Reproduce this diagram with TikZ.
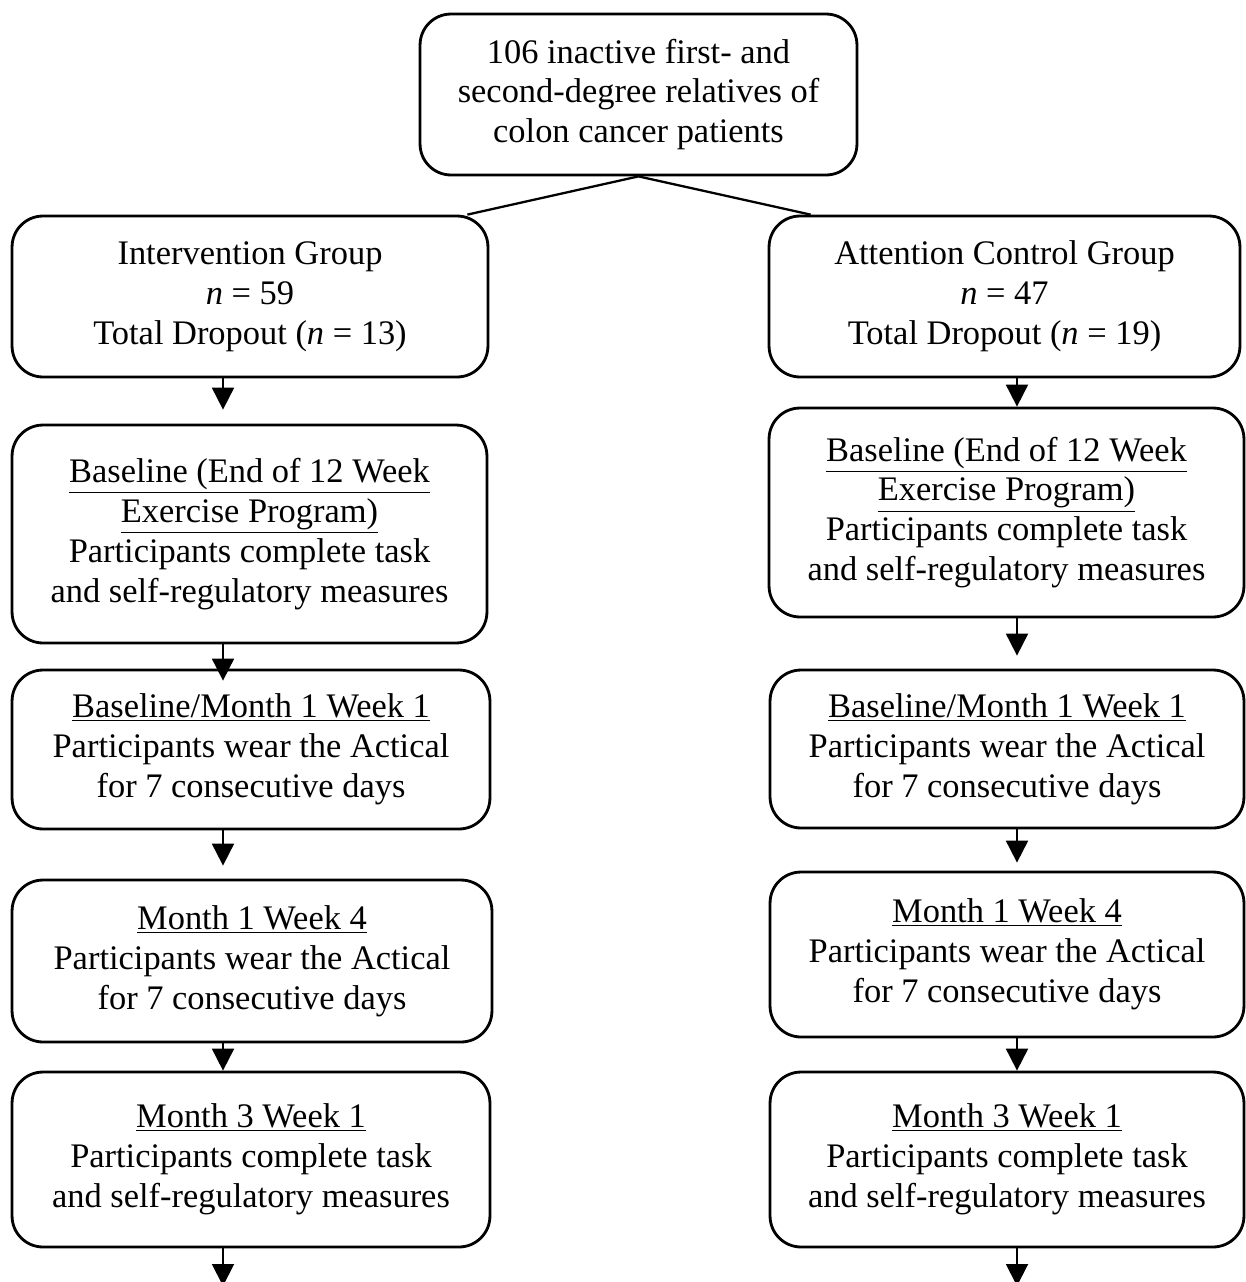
\documentclass[tikz,border=0pt]{standalone}
\usepackage{fontspec}
\setmainfont{Liberation Serif}
\usetikzlibrary{arrows.meta,positioning,calc}

\begin{document}
\begin{tikzpicture}[
  x=0.02cm,y=-0.02cm,
  >={Triangle[length=0.44cm,width=0.44cm]},
  stage/.style={draw=black,line width=1.6pt,rounded corners=0.62cm,align=center,inner sep=0pt,
    font=\fontsize{19.6}{22.7}\selectfont},
  flow/.style={draw=black,line width=1.1pt,->}
]
\useasboundingbox (0,0) rectangle (1245,1282);
% recruitment
\node[stage,minimum width=8.74cm,minimum height=3.22cm] (pool) at (638.5,94.5)
  {106 inactive first- and\\second-degree relatives of\\colon cancer patients};
% groups
\node[stage,minimum width=9.52cm,minimum height=3.22cm] (ig) at (250,296.5)
  {Intervention Group\\\textit{n} = 59\\Total Dropout (\textit{n} = 13)};
\node[stage,minimum width=9.42cm,minimum height=3.22cm] (cg) at (1004.5,296.5)
  {Attention Control Group\\\textit{n} = 47\\Total Dropout (\textit{n} = 19)};
% intervention column
\node[stage,minimum width=9.5cm,minimum height=4.36cm] (ibase) at (249.5,534)
  {\underline{Baseline (End of 12 Week}\\\underline{Exercise Program)}\\Participants complete task\\and self-regulatory measures};
\node[stage,minimum width=9.56cm,minimum height=3.18cm] (iwk1) at (251,749.5)
  {\underline{Baseline/Month 1 Week 1}\\Participants wear the Actical\\for 7 consecutive days};
\node[stage,minimum width=9.6cm,minimum height=3.24cm] (iwk4) at (252,961)
  {\underline{Month 1 Week 4}\\Participants wear the Actical\\for 7 consecutive days};
\node[stage,minimum width=9.56cm,minimum height=3.5cm] (im3) at (251,1159.5)
  {\underline{Month 3 Week 1}\\Participants complete task\\and self-regulatory measures};
% control column
\node[stage,minimum width=9.5cm,minimum height=4.18cm] (cbase) at (1006.5,512.5)
  {\underline{Baseline (End of 12 Week}\\\underline{Exercise Program)}\\Participants complete task\\and self-regulatory measures};
\node[stage,minimum width=9.48cm,minimum height=3.16cm] (cwk1) at (1007,749)
  {\underline{Baseline/Month 1 Week 1}\\Participants wear the Actical\\for 7 consecutive days};
\node[stage,minimum width=9.48cm,minimum height=3.3cm] (cwk4) at (1007,954.5)
  {\underline{Month 1 Week 4}\\Participants wear the Actical\\for 7 consecutive days};
\node[stage,minimum width=9.48cm,minimum height=3.5cm] (cm3) at (1007,1159.5)
  {\underline{Month 3 Week 1}\\Participants complete task\\and self-regulatory measures};

\coordinate (icol) at (223,0);
\coordinate (ccol) at (1017,0);
\coordinate (iend) at (223,1286);
\coordinate (cend) at (1017,1286);

\draw[line width=1.3pt] ([xshift=-0.44cm]ig.north east) -- (pool.south) -- ([xshift=0.86cm]cg.north west);

\draw[flow,shorten >=0.28cm] (ig.south -| icol) -- (ibase.north -| icol);
\draw[flow,shorten >=-0.24cm] (ibase.south -| icol) -- (iwk1.north -| icol);
\draw[flow,shorten >=0.26cm] (iwk1.south -| icol) -- (iwk4.north -| icol);
\draw[flow] (iwk4.south -| icol) -- (im3.north -| icol);
\draw[flow] (im3.south -| icol) -- (iend);

\draw[flow] (cg.south -| ccol) -- (cbase.north -| ccol);
\draw[flow,shorten >=0.26cm] (cbase.south -| ccol) -- (cwk1.north -| ccol);
\draw[flow,shorten >=0.16cm] (cwk1.south -| ccol) -- (cwk4.north -| ccol);
\draw[flow] (cwk4.south -| ccol) -- (cm3.north -| ccol);
\draw[flow] (cm3.south -| ccol) -- (cend);
\end{tikzpicture}
\end{document}
